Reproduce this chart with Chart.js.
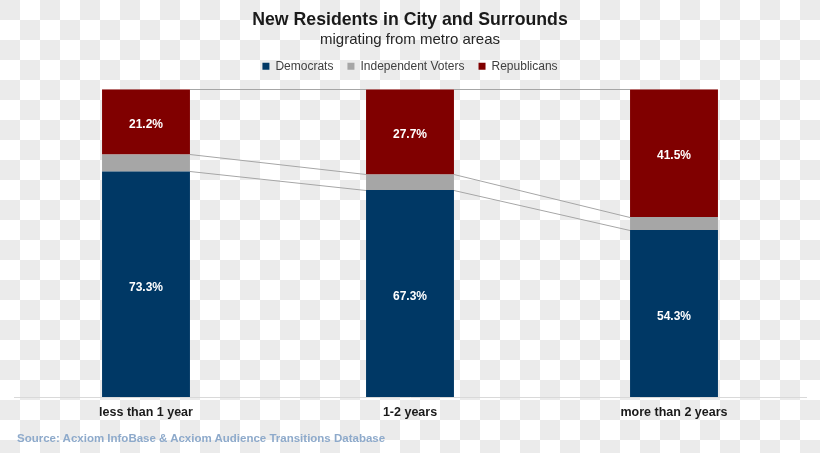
<!DOCTYPE html>
<html>
<head>
<meta charset="utf-8">
<script src="https://cdn.jsdelivr.net/npm/chart.js@4/dist/chart.umd.min.js"></script>
<style>
  html, body { margin: 0; padding: 0; }
  body {
    width: 820px; height: 453px; overflow: hidden;
    background: repeating-conic-gradient(#fff 0 25%, #ebebeb 0 50%) 0 0 / 40px 40px;
    font-family: "Liberation Sans", Arial, sans-serif;
  }
  #wrap { position: relative; width: 820px; height: 453px; }
  #source {
    position: absolute; left: 17px; top: 432px;
    font-size: 11.5px; font-weight: bold; color: #8eaacb;
  }
</style>
</head>
<body>
<div id="wrap">
  <canvas id="chart" width="820" height="453"></canvas>
  <div id="source">Source: Acxiom InfoBase &amp; Acxiom Audience Transitions Database</div>
</div>
<script>
var categories = ["less than 1 year", "1-2 years", "more than 2 years"];
var democrats = [73.3, 67.3, 54.3];
var independents = [5.5, 5.0, 4.2];
var republicans = [21.2, 27.7, 41.5];

// etiquetas de valor dentro de las barras (sin independientes)
var labelPlugin = {
    id: "valueLabels",
    afterDatasetsDraw: function (chart) {
        var ctx = chart.ctx;
        ctx.save();
        ctx.fillStyle = "#ffffff";
        ctx.font = "bold 12px 'Liberation Sans', Arial, sans-serif";
        ctx.textAlign = "center";
        ctx.textBaseline = "middle";
        chart.data.datasets.forEach(function (ds, d) {
            if (!ds.showLabels) return;
            chart.getDatasetMeta(d).data.forEach(function (bar, i) {
                var p = bar.getCenterPoint();
                ctx.fillText(ds.data[i].toFixed(1) + "%", p.x, p.y + 3);
            });
        });
        ctx.restore();
    }
};

// lineas de serie entre barras apiladas
var seriesLines = {
    id: "seriesLines",
    beforeDatasetsDraw: function (chart) {
        var ctx = chart.ctx;
        var y = chart.scales.y;
        var n = chart.data.labels.length;
        var bars = chart.getDatasetMeta(0).data;
        ctx.save();
        ctx.strokeStyle = "#a6a6a6";
        ctx.lineWidth = 1;
        var cum = [];
        for (let i = 0; i < n; i++) cum[i] = 0;
        chart.data.datasets.forEach(function (ds) {
            for (let i = 0; i < n; i++) cum[i] += ds.data[i];
            for (let i = 0; i < n - 1; i++) {
                var x1 = bars[i].x + bars[i].width / 2;
                var x2 = bars[i + 1].x - bars[i + 1].width / 2;
                ctx.beginPath();
                ctx.moveTo(x1, Math.round(y.getPixelForValue(cum[i])) + 0.5);
                ctx.lineTo(x2, Math.round(y.getPixelForValue(cum[i + 1])) + 0.5);
                ctx.stroke();
            }
        });
        ctx.restore();
    }
};

// espacio extra debajo de la leyenda
var legendGap = {
    id: "legendGap",
    beforeInit: function (chart) {
        var fitOrig = chart.legend.fit;
        chart.legend.fit = function () {
            fitOrig.bind(chart.legend)();
            this.height += 7;
        };
    }
};

var ctx = document.getElementById("chart").getContext("2d");
new Chart(ctx, {
    type: "bar",
    data: {
        labels: categories,
        datasets: [
            { label: "Democrats", data: democrats, backgroundColor: "#003865", showLabels: true },
            { label: "Independent Voters", data: independents, backgroundColor: "#a6a6a6", showLabels: false },
            { label: "Republicans", data: republicans, backgroundColor: "#800000", showLabels: true }
        ]
    },
    options: {
        responsive: false,
        animation: false,
        devicePixelRatio: 1,
        categoryPercentage: 1,
        barPercentage: 0.333,
        layout: { padding: { left: 14, right: 14, top: 0, bottom: 25 } },
        plugins: {
            title: {
                display: true,
                text: "New Residents in City and Surrounds",
                color: "#1a1a1a",
                font: { family: "'Liberation Sans', Arial, sans-serif", size: 17.7, weight: "bold" },
                padding: { top: 9, bottom: 0 }
            },
            subtitle: {
                display: true,
                text: "migrating from metro areas",
                color: "#262626",
                font: { family: "'Liberation Sans', Arial, sans-serif", size: 15 },
                padding: { top: 1, bottom: -3 }
            },
            legend: {
                position: "top",
                labels: {
                    boxWidth: 7,
                    boxHeight: 7,
                    padding: 14,
                    color: "#404040",
                    font: { family: "'Liberation Sans', Arial, sans-serif", size: 12 }
                }
            },
            tooltip: { enabled: false }
        },
        scales: {
            x: {
                stacked: true,
                grid: { display: false, drawTicks: false },
                border: { display: true, color: "#d9d9d9" },
                ticks: {
                    padding: 8,
                    color: "#1a1a1a",
                    font: { family: "'Liberation Sans', Arial, sans-serif", size: 12.5, weight: "bold" }
                }
            },
            y: {
                stacked: true,
                display: false,
                min: 0,
                max: 100
            }
        }
    },
    plugins: [labelPlugin, seriesLines, legendGap]
});
</script>
</body>
</html>
